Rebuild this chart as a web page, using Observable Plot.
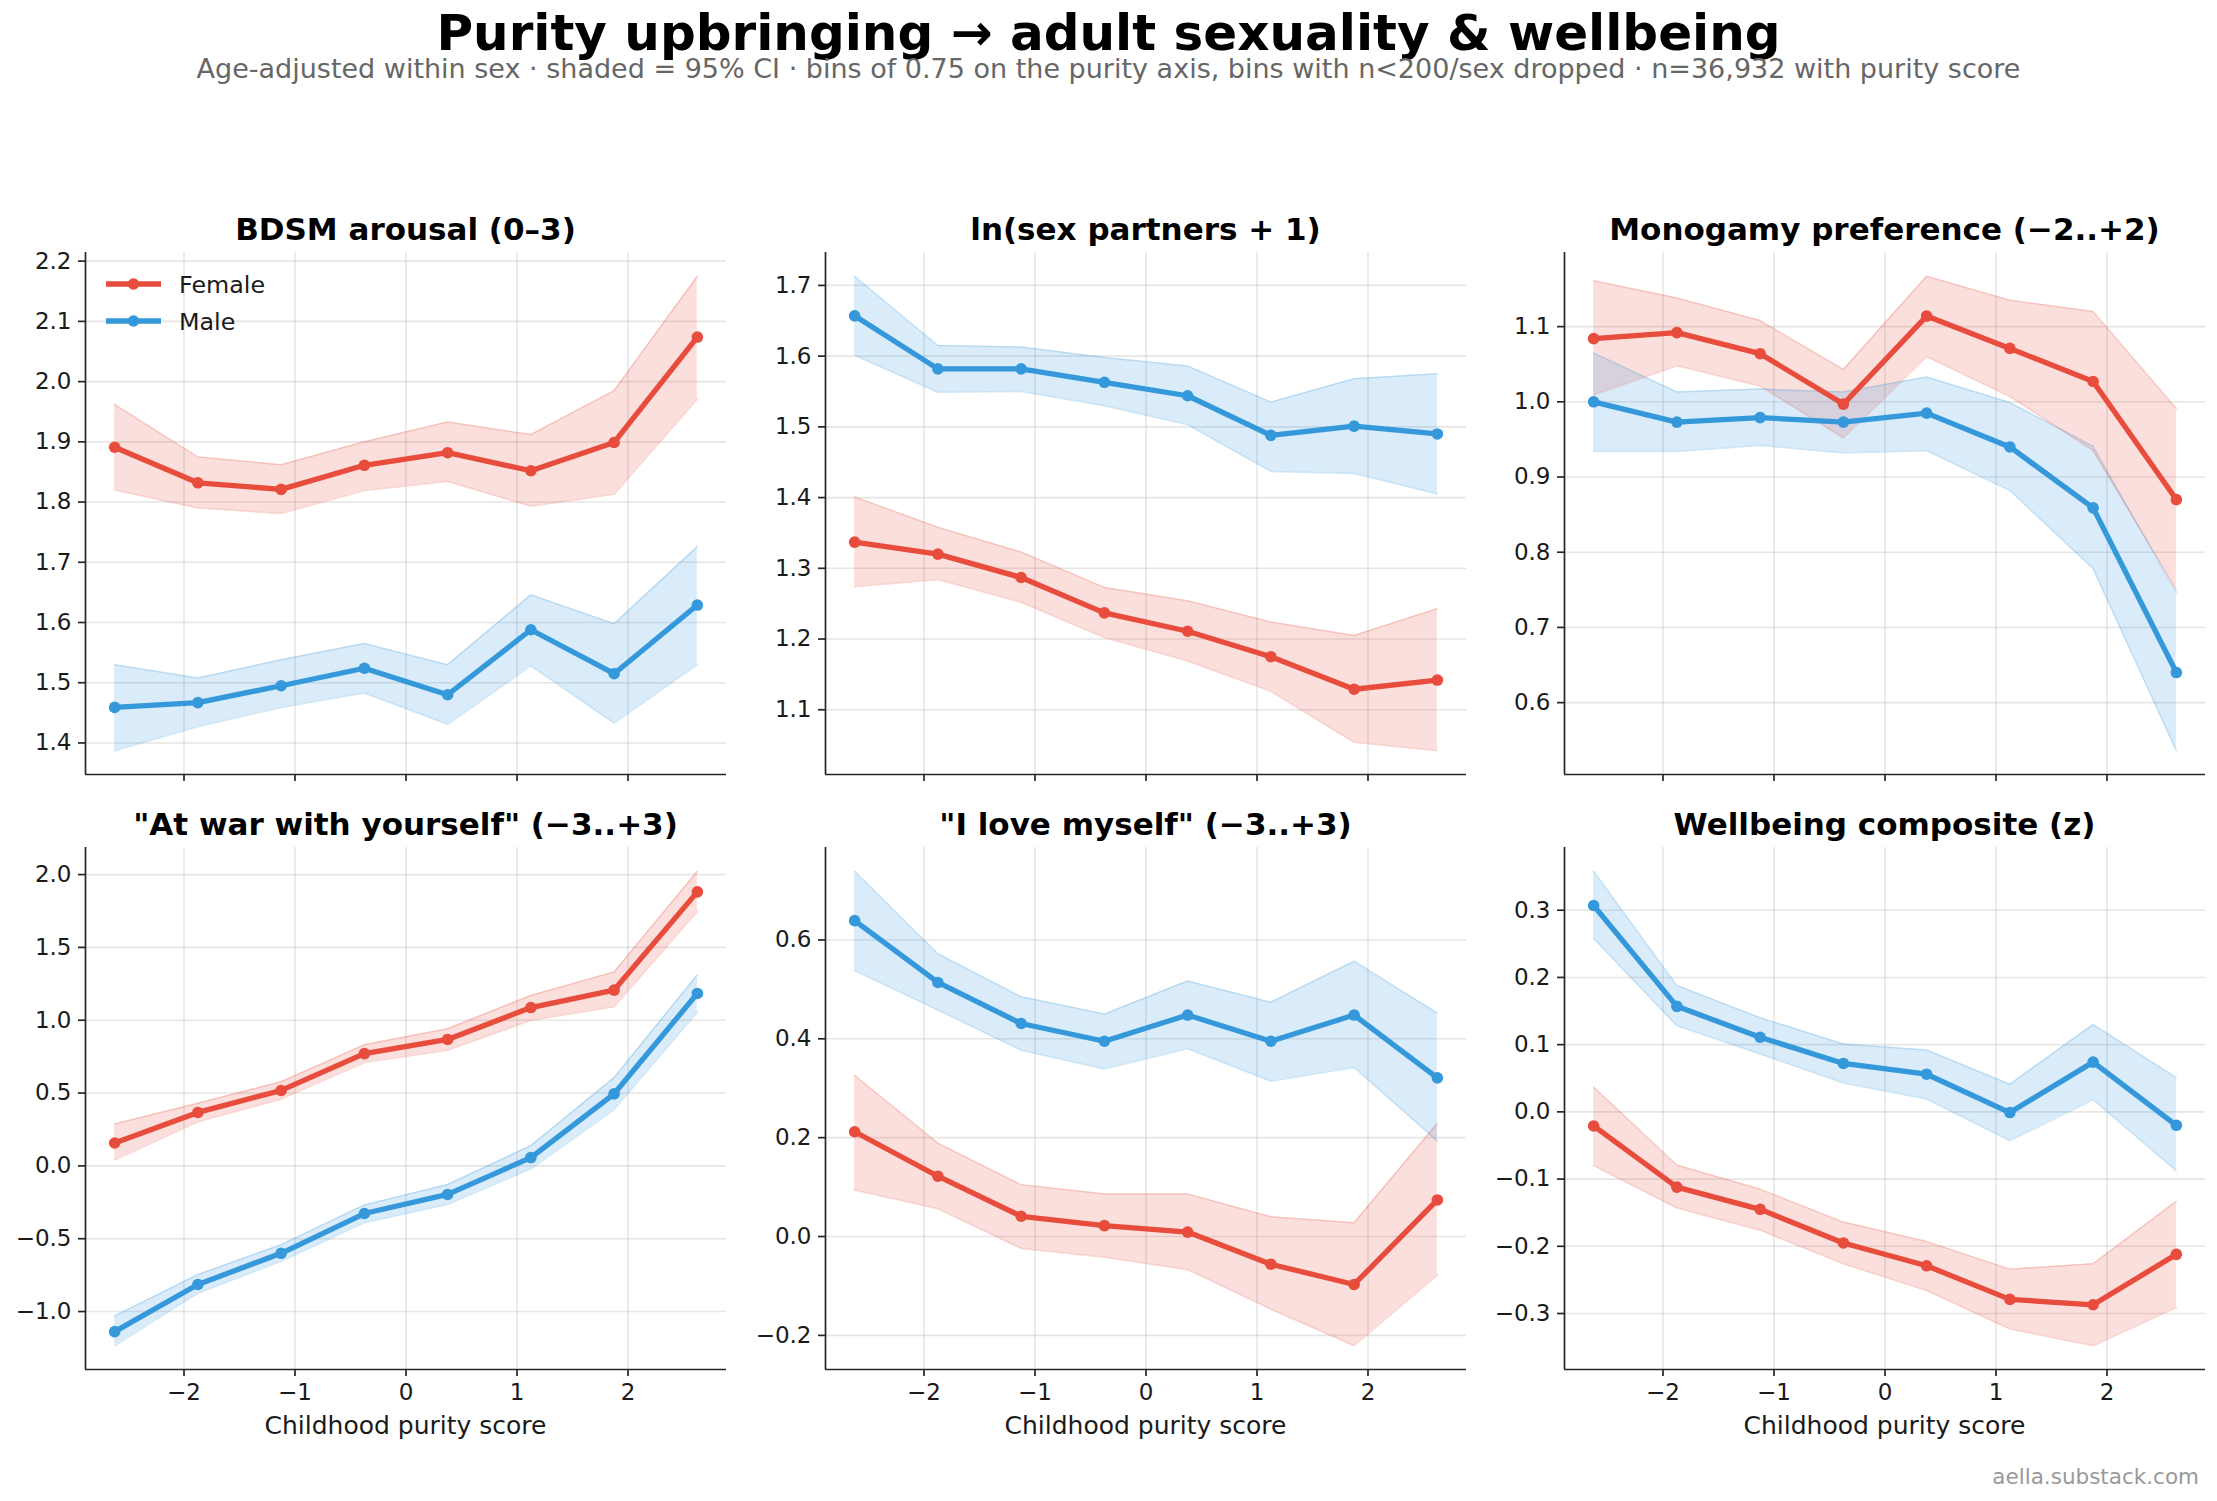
<!DOCTYPE html>
<html><head><meta charset="utf-8">
<script src="https://cdn.jsdelivr.net/npm/d3@7"></script>
<script src="https://cdn.jsdelivr.net/npm/@observablehq/plot@0.6"></script>
<style>
body{margin:0;background:#fff;}
#fig{position:relative;width:2217px;height:1501px;background:#fff;overflow:hidden;font-family:"DejaVu Sans",sans-serif}
.pan{position:absolute}
#over{position:absolute;left:0;top:0;z-index:5;pointer-events:none}
</style></head><body><div id="fig"></div>
<script>
// ---- data ----
const sexes = ["Female", "Male"];
const sexColors = ["#e74c3c", "#3498db"];
const purityBins = [-2.625, -1.875, -1.125, -0.375, 0.375, 1.125, 1.875, 2.625];
const xTicks = [-2, -1, 0, 1, 2];

const panelTitles = ["BDSM arousal (0–3)", "ln(sex partners + 1)", "Monogamy preference (−2..+2)",
  "\"At war with yourself\" (−3..+3)", "\"I love myself\" (−3..+3)", "Wellbeing composite (z)"];

const bdsmF   = [1.891, 1.832, 1.821, 1.861, 1.882, 1.852, 1.899, 2.074];
const bdsmFLo = [1.820, 1.790, 1.781, 1.819, 1.834, 1.793, 1.813, 1.971];
const bdsmFHi = [1.962, 1.875, 1.862, 1.900, 1.933, 1.912, 1.985, 2.175];
const bdsmM   = [1.459, 1.467, 1.495, 1.524, 1.480, 1.588, 1.515, 1.629];
const bdsmMLo = [1.387, 1.427, 1.459, 1.483, 1.431, 1.528, 1.433, 1.530];
const bdsmMHi = [1.530, 1.508, 1.538, 1.565, 1.530, 1.646, 1.598, 1.726];
const bdsmTicks = [1.4, 1.5, 1.6, 1.7, 1.8, 1.9, 2.0, 2.1, 2.2];

const partF   = [1.337, 1.320, 1.287, 1.237, 1.211, 1.175, 1.129, 1.142];
const partFLo = [1.274, 1.284, 1.252, 1.202, 1.169, 1.126, 1.054, 1.042];
const partFHi = [1.401, 1.358, 1.323, 1.273, 1.254, 1.224, 1.205, 1.243];
const partM   = [1.657, 1.582, 1.582, 1.563, 1.544, 1.488, 1.501, 1.490];
const partMLo = [1.601, 1.549, 1.550, 1.530, 1.503, 1.437, 1.434, 1.405];
const partMHi = [1.713, 1.615, 1.613, 1.598, 1.586, 1.535, 1.568, 1.575];
const partTicks = [1.1, 1.2, 1.3, 1.4, 1.5, 1.6, 1.7];

const monoF   = [1.084, 1.092, 1.064, 0.997, 1.114, 1.071, 1.027, 0.870];
const monoFLo = [1.009, 1.048, 1.021, 0.952, 1.060, 1.007, 0.935, 0.750];
const monoFHi = [1.161, 1.138, 1.108, 1.043, 1.167, 1.135, 1.120, 0.991];
const monoM   = [1.000, 0.973, 0.979, 0.973, 0.985, 0.940, 0.859, 0.640];
const monoMLo = [0.934, 0.934, 0.942, 0.932, 0.935, 0.882, 0.778, 0.536];
const monoMHi = [1.065, 1.013, 1.017, 1.013, 1.033, 0.999, 0.941, 0.746];
const monoTicks = [0.6, 0.7, 0.8, 0.9, 1.0, 1.1];

const warF   = [0.157, 0.367, 0.518, 0.771, 0.868, 1.087, 1.207, 1.881];
const warFLo = [0.040, 0.302, 0.458, 0.709, 0.794, 0.999, 1.093, 1.747];
const warFHi = [0.287, 0.430, 0.578, 0.831, 0.942, 1.170, 1.332, 2.023];
const warM   = [-1.138, -0.814, -0.600, -0.327, -0.196, 0.057, 0.495, 1.184];
const warMLo = [-1.235, -0.874, -0.655, -0.390, -0.265, -0.020, 0.387, 1.056];
const warMHi = [-1.030, -0.746, -0.541, -0.268, -0.128, 0.139, 0.606, 1.312];
const warTicks = [-1.0, -0.5, 0.0, 0.5, 1.0, 1.5, 2.0];

const loveF   = [0.212, 0.122, 0.041, 0.022, 0.009, -0.056, -0.097, 0.074];
const loveFLo = [0.094, 0.056, -0.024, -0.042, -0.067, -0.147, -0.221, -0.078];
const loveFHi = [0.326, 0.189, 0.105, 0.086, 0.086, 0.040, 0.028, 0.229];
const loveM   = [0.639, 0.514, 0.431, 0.395, 0.448, 0.395, 0.448, 0.321];
const loveMLo = [0.538, 0.458, 0.377, 0.339, 0.380, 0.314, 0.342, 0.193];
const loveMHi = [0.739, 0.572, 0.485, 0.450, 0.517, 0.474, 0.557, 0.452];
const loveTicks = [-0.2, 0.0, 0.2, 0.4, 0.6];

const wellF   = [-0.021, -0.112, -0.145, -0.195, -0.229, -0.279, -0.287, -0.212];
const wellFLo = [-0.080, -0.143, -0.176, -0.226, -0.266, -0.323, -0.348, -0.291];
const wellFHi = [0.037, -0.079, -0.115, -0.164, -0.193, -0.234, -0.226, -0.133];
const wellM   = [0.307, 0.157, 0.111, 0.072, 0.056, -0.001, 0.074, -0.020];
const wellMLo = [0.258, 0.128, 0.086, 0.043, 0.019, -0.043, 0.018, -0.088];
const wellMHi = [0.358, 0.188, 0.140, 0.101, 0.092, 0.041, 0.130, 0.051];
const wellTicks = [-0.3, -0.2, -0.1, 0.0, 0.1, 0.2, 0.3];

const titleText = "Purity upbringing → adult sexuality & wellbeing";
const subtitleText = "Age-adjusted within sex · shaded = 95% CI · bins of 0.75 on the purity axis, bins with n<200/sex dropped · n=36,932 with purity score";
const xLabelText = "Childhood purity score";
const sourceText = "aella.substack.com";

// ---- build ----
const panels = [
  [bdsmF, bdsmFLo, bdsmFHi, bdsmM, bdsmMLo, bdsmMHi, bdsmTicks],
  [partF, partFLo, partFHi, partM, partMLo, partMHi, partTicks],
  [monoF, monoFLo, monoFHi, monoM, monoMLo, monoMHi, monoTicks],
  [warF, warFLo, warFHi, warM, warMLo, warMHi, warTicks],
  [loveF, loveFLo, loveFHi, loveM, loveMLo, loveMHi, loveTicks],
  [wellF, wellFLo, wellFHi, wellM, wellMLo, wellMHi, wellTicks]
];
const fig = document.getElementById("fig");
const colLefts = [85, 825, 1564];
const rowTops = [252, 847];
const FW = 641, FH = 522;
const ML = 90, MR = 12, MT = 10, MB = 50;
const ink = "#262626";

const xe = d3.extent(purityBins), xr = xe[1] - xe[0];
const xDom = [xe[0] - 0.05 * xr, xe[1] + 0.05 * xr];

panels.forEach((p, i) => {
  const [fM, fLo, fHi, mM, mLo, mHi, ticks] = p;
  const col = i % 3, row = Math.floor(i / 3);
  const rows = [];
  purityBins.forEach((x, k) => {
    rows.push({x, sex: "Female", mean: fM[k], lo: fLo[k], hi: fHi[k]});
  });
  purityBins.forEach((x, k) => {
    rows.push({x, sex: "Male", mean: mM[k], lo: mLo[k], hi: mHi[k]});
  });
  const ye = d3.extent([...fLo, ...fHi, ...mLo, ...mHi]);
  const yr = ye[1] - ye[0];
  const yDom = [ye[0] - 0.05 * yr, ye[1] + 0.05 * yr];
  const chart = Plot.plot({
    width: ML + FW + MR, height: MT + FH + MB,
    marginLeft: ML, marginRight: MR, marginTop: MT, marginBottom: MB,
    x: {domain: xDom},
    y: {domain: yDom},
    color: {domain: sexes, range: sexColors},
    style: {fontFamily: "DejaVu Sans", fontSize: "23px", color: "#1a1a1a", background: "none", maxWidth: "none", overflow: "visible"},
    marks: [
      Plot.gridX(xTicks, {stroke: "#b0b0b0", strokeOpacity: 0.32, strokeWidth: 1.6}),
      Plot.gridY(ticks, {stroke: "#b0b0b0", strokeOpacity: 0.32, strokeWidth: 1.6}),
      Plot.areaY(rows, {x: "x", y1: "lo", y2: "hi", z: "sex", fill: "sex", fillOpacity: 0.18}),
      Plot.lineY(rows, {x: "x", y: "lo", z: "sex", stroke: "sex", strokeOpacity: 0.22, strokeWidth: 1.5}),
      Plot.lineY(rows, {x: "x", y: "hi", z: "sex", stroke: "sex", strokeOpacity: 0.22, strokeWidth: 1.5}),
      Plot.lineY(rows, {x: "x", y: "mean", z: "sex", stroke: "sex", strokeWidth: 5.3}),
      Plot.dot(rows, {x: "x", y: "mean", fill: "sex", r: 5.8}),
      Plot.ruleX([xDom[0]], {stroke: ink, strokeWidth: 1.7}),
      Plot.ruleY([yDom[0]], {stroke: ink, strokeWidth: 1.7}),
      Plot.axisX({ticks: xTicks, tickSize: 7, tickPadding: 7, stroke: ink, strokeWidth: 1.7,
        tickFormat: row === 1 ? d3.format("d") : () => "", label: null}),
      Plot.axisY({ticks: ticks, tickSize: 7, tickPadding: 7, stroke: ink, strokeWidth: 1.7,
        tickFormat: d3.format(".1f"), label: null})
    ]
  });
  const wrap = document.createElement("div");
  wrap.className = "pan";
  wrap.style.left = (colLefts[col] - ML) + "px";
  wrap.style.top = (rowTops[row] - MT) + "px";
  wrap.appendChild(chart);
  fig.appendChild(wrap);
});

// ---- text overlay (titles, labels, legend) ----
const svg = d3.select(fig).append("svg").attr("id", "over")
  .attr("width", 2217).attr("height", 1501)
  .style("font-family", "DejaVu Sans");
svg.append("text").attr("x", 1108.5).attr("y", 50).attr("text-anchor", "middle")
  .attr("font-size", 50).attr("font-weight", "bold").attr("fill", "#000").text(titleText);
svg.append("text").attr("x", 1108.5).attr("y", 77.5).attr("text-anchor", "middle")
  .attr("font-size", 27).attr("fill", "#666").text(subtitleText);
panelTitles.forEach((t, i) => {
  const col = i % 3, row = Math.floor(i / 3);
  svg.append("text").attr("x", colLefts[col] + FW / 2).attr("y", rowTops[row] - 12.5)
    .attr("text-anchor", "middle").attr("font-size", 31).attr("font-weight", "bold").attr("fill", "#000").text(t);
  if (row === 1) {
    svg.append("text").attr("x", colLefts[col] + FW / 2).attr("y", 1434)
      .attr("text-anchor", "middle").attr("font-size", 25).attr("fill", "#1a1a1a").text(xLabelText);
  }
});
svg.append("text").attr("x", 2199).attr("y", 1484).attr("text-anchor", "end")
  .attr("font-size", 21.5).attr("fill", "#999").text(sourceText);
// legend
sexes.forEach((s, k) => {
  const y = 284 + k * 37;
  svg.append("line").attr("x1", 106).attr("x2", 161).attr("y1", y).attr("y2", y)
    .attr("stroke", sexColors[k]).attr("stroke-width", 5.3);
  svg.append("circle").attr("cx", 133.5).attr("cy", y).attr("r", 5.8).attr("fill", sexColors[k]);
  svg.append("text").attr("x", 179).attr("y", y + 8.6).attr("font-size", 23.8).attr("fill", "#1a1a1a").text(s);
});
</script></body></html>
